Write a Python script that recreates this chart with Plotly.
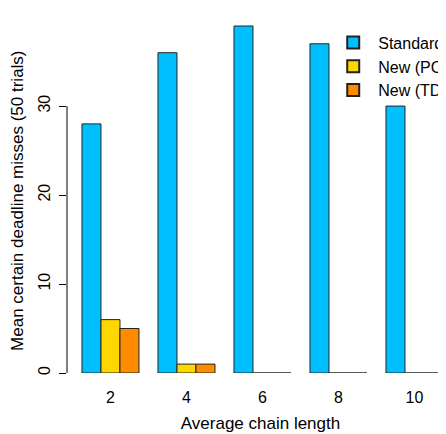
import plotly.graph_objects as go

categories = ["2", "4", "6", "8", "10"]
standard = [28, 36, 39, 37, 30]
new_pc = [6, 1, 0, 0, 0]
new_td = [5, 1, 0, 0, 0]
series_names = ["Standard", "New (PCP)", "New (TD)"]
colors = ["#00BFFF", "#FFD700", "#FF8C00"]
y_ticks = [0, 10, 20, 30]

FONT = "Liberation Sans, Arial, Helvetica, sans-serif"

fig = go.Figure()
for name, vals, col in zip(series_names, [standard, new_pc, new_td], colors):
    fig.add_trace(go.Bar(
        x=categories, y=vals, name=name,
        marker=dict(color=col, line=dict(color="#222222", width=1)),
    ))

fig.update_layout(
    width=446, height=434,
    margin=dict(l=59, r=0, t=2, b=69, autoexpand=False),
    paper_bgcolor="white", plot_bgcolor="white",
    barmode="group", bargap=0.25, bargroupgap=0,
    font=dict(family=FONT, size=16, color="black"),
    showlegend=True,
    legend=dict(x=0.675, y=0.957, xanchor="left", yanchor="top",
                bgcolor="rgba(0,0,0,0)", font=dict(size=16),
                tracegroupgap=0, itemsizing="constant", itemwidth=40),
    xaxis=dict(
        type="category", range=[-0.572, 4.52],
        showline=False, showgrid=False, zeroline=False,
        ticks="outside", ticklen=10, tickcolor="rgba(0,0,0,0)",
        tickfont=dict(size=16),
        title=dict(text="Average chain length", standoff=11, font=dict(size=17)),
    ),
    yaxis=dict(
        range=[0, 40.8], tickvals=y_ticks,
        showline=False, showgrid=False, zeroline=False,
        ticks="outside", ticklen=7, tickcolor="black", tickwidth=1,
        tickangle=-90, ticklabelstandoff=3, tickfont=dict(size=16),
    ),
    annotations=[dict(text="Mean certain deadline misses (50 trials)",
                      xref="paper", yref="paper", x=-0.1266, y=0.474,
                      xanchor="center", yanchor="middle", textangle=-90,
                      showarrow=False, font=dict(size=17))],
    shapes=[dict(type="line", xref="paper", yref="y", x0=0, x1=0,
                 y0=y_ticks[0], y1=y_ticks[-1],
                 line=dict(color="black", width=1))],
)

fig.write_html("out.html")
